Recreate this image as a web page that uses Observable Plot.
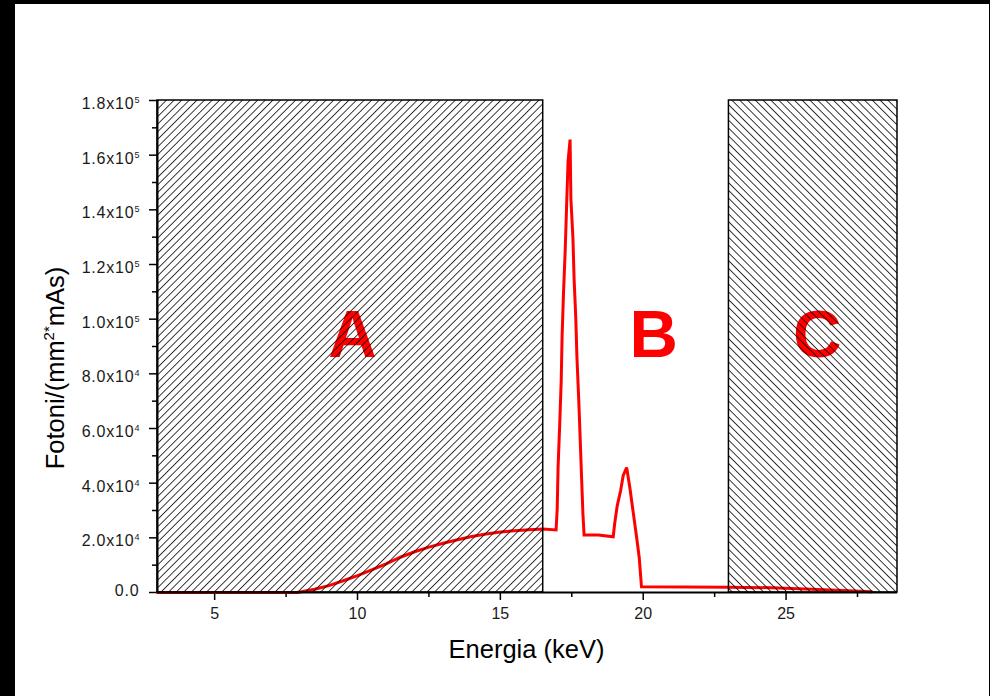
<!DOCTYPE html>
<html>
<head>
<meta charset="utf-8">
<script src="https://cdn.jsdelivr.net/npm/d3@7"></script>
<script src="https://cdn.jsdelivr.net/npm/@observablehq/plot@0.6"></script>
<style>
  html, body { margin: 0; padding: 0; }
  body { width: 990px; height: 696px; background: #000; position: relative; overflow: hidden; }
  #chart { position: absolute; left: 15px; top: 4px; width: 974px; height: 692px; background: #fff; }
  #chart svg { display: block; }
</style>
</head>
<body>
<div id="chart"></div>
<script>
// Spectrum: energy (keV) and photons per mm^2 per mAs
const energy = [3, 7.9, 8.5, 9, 9.5, 10, 10.5, 11, 11.5, 12, 12.5, 13, 13.5, 14, 14.5, 15, 15.5, 16, 16.5, 16.95,
  16.99, 17.02, 17.08, 17.13, 17.16, 17.21, 17.27, 17.32, 17.37, 17.44,
  17.47, 17.54, 17.58, 17.64, 17.68, 17.74, 17.79, 17.84, 17.89, 17.93,
  18.43, 18.95, 19.0, 19.09, 19.21, 19.30, 19.42, 19.53, 19.65, 19.77, 19.86, 19.94,
  23, 24.5, 25.9, 27, 28];
const photons = [0, 0, 1200, 2500, 4300, 6200, 8300, 10500, 12900, 14900, 16600, 18000, 19300, 20500, 21400, 22100, 22600, 23000, 23200, 22900,
  30600, 45700, 62200, 77600, 93400, 109600, 125300, 141800, 157700, 165700,
  143700, 129700, 115000, 100400, 86100, 71400, 57500, 42800, 28800, 21000,
  21000, 20400, 25100, 31700, 37300, 42800, 45700, 38500, 29300, 20100, 12800, 2100,
  1900, 1750, 1200, 700, 300];

// Hatched regions
const regionNames = ["A", "B", "C"];
const regionStart = [3, 23];
const regionEnd = [16.5, 28.9];
const labelEnergy = [9.82, 20.37, 26.09];
const labelLevel = [94000, 94000, 94000];

// Axes
const xDomain = [3, 28.9];
const yDomain = [0, 180000];
const xMajor = [5, 10, 15, 20, 25];
const xMinor = [7.5, 12.5, 17.5, 22.5, 27.5];
const yMajor = [0, 20000, 40000, 60000, 80000, 100000, 120000, 140000, 160000, 180000];
const yMinor = [10000, 30000, 50000, 70000, 90000, 110000, 130000, 150000, 170000];

const xLabel = "Energia (keV)";
const yLabelParts = ["Fotoni/(mm", "2*", "mAs)"];

const spectrum = energy.map((e, i) => ({e, p: photons[i]}));
const hatchA = [{x1: regionStart[0], x2: regionEnd[0]}];
const hatchC = [{x1: regionStart[1], x2: regionEnd[1]}];
const letters = regionNames.map((t, i) => ({t, x: labelEnergy[i], y: labelLevel[i]}));

function sciFmt(v) {
  if (v === 0) return "0.0";
  const e = Math.floor(Math.log10(v) + 1e-9);
  const m = v / Math.pow(10, e);
  return m.toFixed(1) + "x10^" + e;
}

const font = "'Liberation Sans', Arial, Helvetica, sans-serif";

const svg = Plot.plot({
  width: 974,
  height: 692,
  marginLeft: 142,
  marginRight: 92,
  marginTop: 96,
  marginBottom: 104,
  x: {domain: xDomain},
  y: {domain: yDomain},
  style: {fontFamily: font, background: "white", color: "black", overflow: "visible"},
  marks: [
    Plot.axisY(yMajor, {tickSize: 8, tickPadding: 10, tickFormat: sciFmt, fontSize: 16, strokeWidth: 1.5, label: null}),
    Plot.axisY(yMinor, {tickSize: 5, tickFormat: () => "", strokeWidth: 1.5, label: null}),
    Plot.axisX(xMajor, {tickSize: 8, tickPadding: 7, fontSize: 16, strokeWidth: 1.5, label: null}),
    Plot.axisX(xMinor, {tickSize: 5, tickFormat: () => "", strokeWidth: 1.5, label: null}),
    Plot.text(letters, {x: "x", y: "y", text: "t", fontSize: 67, fontWeight: "bold", fill: "#ff0000", fontFamily: font}),
    Plot.line(spectrum, {x: "e", y: "p", stroke: "#ff0000", strokeWidth: 3, strokeLinejoin: "miter", strokeMiterlimit: 2}),
    Plot.rect(hatchA, {x1: "x1", x2: "x2", y1: yDomain[0], y2: yDomain[1], fill: "url(#hatchA)", stroke: "#000", strokeWidth: 1.5}),
    Plot.rect(hatchC, {x1: "x1", x2: "x2", y1: yDomain[0], y2: yDomain[1], fill: "url(#hatchC)", stroke: "#000", strokeWidth: 1.5}),
    Plot.ruleX([xDomain[0]], {strokeWidth: 2}),
    Plot.ruleY([yDomain[0]], {strokeWidth: 2})
  ]
});

const s = d3.select(svg);
const defs = s.insert("defs", ":first-child");
function hatch(id, spacing, angle) {
  const p = defs.append("pattern")
    .attr("id", id)
    .attr("patternUnits", "userSpaceOnUse")
    .attr("width", spacing)
    .attr("height", 20)
    .attr("patternTransform", `rotate(${angle})`);
  p.append("line")
    .attr("x1", spacing / 2).attr("x2", spacing / 2)
    .attr("y1", -1).attr("y2", 21)
    .attr("stroke", "#000").attr("stroke-width", 0.85)
    .attr("shape-rendering", "crispEdges");
}
hatch("hatchA", 7.6 / Math.SQRT2, 45);
hatch("hatchC", 7.8 / Math.SQRT2, -45);

// Superscript exponents on the y tick labels
s.selectAll('g[aria-label="y-axis tick label"] text').each(function() {
  const t = d3.select(this);
  const str = t.text();
  if (!str) return;
  const [mant, exp] = str.split("^");
  t.attr("dy", exp === undefined ? "-2" : "3.5").attr("fill", "#1a1a1a");
  t.text(null);
  t.append("tspan").text(mant).style("letter-spacing", "0.8px");
  if (exp !== undefined) {
    t.append("tspan").attr("dy", -6).attr("font-size", 9).text(exp);
  }
});
s.selectAll('g[aria-label="x-axis tick label"] text').attr("fill", "#1a1a1a");

// Axis titles
s.append("text")
  .attr("x", 511.5).attr("y", 653.5)
  .attr("text-anchor", "middle")
  .attr("font-family", font).attr("font-size", 25.5).attr("fill", "#000")
  .text(xLabel);

const yl = s.append("text")
  .attr("transform", "translate(49,364) rotate(-90)")
  .attr("text-anchor", "middle")
  .attr("font-family", font).attr("font-size", 25.5).attr("fill", "#000");
yl.append("tspan").text(yLabelParts[0]);
yl.append("tspan").attr("dy", -10).attr("font-size", 15).text(yLabelParts[1]);
yl.append("tspan").attr("dy", 10).text(yLabelParts[2]);

document.getElementById("chart").appendChild(svg);
</script>
</body>
</html>
